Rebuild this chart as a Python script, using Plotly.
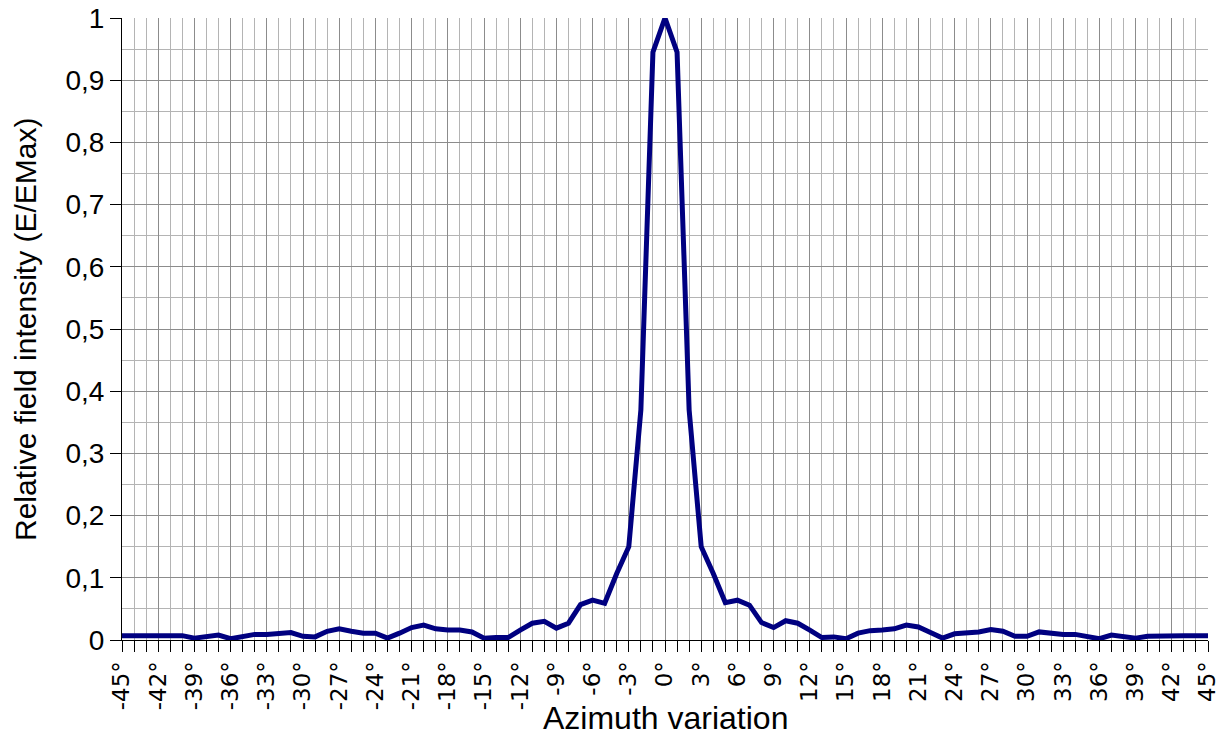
import plotly.graph_objects as go

azimuth_deg = list(range(-45, 46))
intensity = [
    0.007, 0.007, 0.007, 0.007, 0.007, 0.007, 0.003, 0.005, 0.008, 0.002,  # -45..-36
    0.006, 0.009, 0.009, 0.011, 0.012, 0.006, 0.005, 0.014, 0.018, 0.014,  # -35..-26
    0.011, 0.011, 0.003, 0.011, 0.020, 0.024, 0.018, 0.016, 0.016, 0.013,  # -25..-16
    0.003, 0.004, 0.004, 0.016, 0.027, 0.030, 0.019, 0.027, 0.057, 0.064,  # -15..-6
    0.059, 0.107, 0.150, 0.370, 0.945, 1.000, 0.945, 0.370, 0.150, 0.107,  # -5..4
    0.060, 0.064, 0.056, 0.028, 0.020, 0.031, 0.027, 0.016, 0.004, 0.005,  # 5..14
    0.002, 0.011, 0.015, 0.016, 0.018, 0.024, 0.021, 0.012, 0.003, 0.010,  # 15..24
    0.011, 0.013, 0.017, 0.014, 0.006, 0.006, 0.013, 0.011, 0.009, 0.009,  # 25..34
    0.006, 0.002, 0.008, 0.006, 0.003, 0.006, 0.007, 0.007, 0.007, 0.007,  # 35..44
    0.007,                                                                  # 45
]
x_tick_vals = list(range(-45, 46, 3))
x_tick_text = [f"{v}°" for v in x_tick_vals]
y_tick_vals = [0, 0.1, 0.2, 0.3, 0.4, 0.5, 0.6, 0.7, 0.8, 0.9, 1]
y_tick_text = ["0", "0,1", "0,2", "0,3", "0,4", "0,5", "0,6", "0,7", "0,8", "0,9", "1"]
x_title = "Azimuth variation"
y_title = "Relative field intensity (E/EMax)"

FONT = "Liberation Sans, Arial, sans-serif"
XFONT = "DejaVu Sans, Verdana, sans-serif"

fig = go.Figure()
fig.add_trace(go.Scatter(
    x=azimuth_deg, y=intensity, mode="lines",
    line=dict(color="#000080", width=5),
    hoverinfo="x+y", showlegend=False,
))

fig.update_layout(
    width=1224, height=745,
    margin=dict(l=122, r=16, t=18, b=105),
    paper_bgcolor="white", plot_bgcolor="white",
    font=dict(family=FONT, color="black"),
)

fig.update_xaxes(
    range=[-45, 45], automargin=False, ticklabeloverflow="allow",
    tickmode="array", tickvals=x_tick_vals, ticktext=x_tick_text,
    tickangle=-90, tickfont=dict(size=23, family=XFONT),
    ticks="outside", ticklen=11, tickcolor="black", tickwidth=1,
    showgrid=True, gridcolor="#8c8c8c", gridwidth=1,
    minor=dict(tickmode="linear", tick0=-45, dtick=1, ticks="outside", ticklen=11,
               tickcolor="black", showgrid=True, gridcolor="#b4b4b4", gridwidth=1),
    showline=True, linecolor="black", linewidth=1,
    zeroline=False,
)
fig.update_yaxes(
    range=[0, 1], automargin=False, ticklabeloverflow="allow",
    tickmode="array", tickvals=y_tick_vals, ticktext=y_tick_text,
    tickfont=dict(size=28, family=FONT),
    ticks="outside", ticklen=11, tickcolor="black", tickwidth=1,
    showgrid=True, gridcolor="#8c8c8c", gridwidth=1,
    minor=dict(tickmode="linear", tick0=0, dtick=0.05, ticks="",
               showgrid=True, gridcolor="#b4b4b4", gridwidth=1),
    showline=True, linecolor="black", linewidth=1,
    zeroline=False,
)

fig.add_annotation(
    text=x_title, xref="paper", yref="paper", x=0.5, y=0,
    xanchor="center", yanchor="middle", yshift=-78, showarrow=False,
    font=dict(size=32, family=FONT, color="black"),
)
fig.add_annotation(
    text=y_title, xref="paper", yref="paper", x=0, y=0.5,
    xanchor="center", yanchor="middle", xshift=-97, textangle=-90, showarrow=False,
    font=dict(size=30, family=FONT, color="black"),
)

fig.write_html(
    "out.html",
    config={"displayModeBar": False},
    post_script="document.body.style.margin='0';document.body.style.overflow='hidden';",
)
